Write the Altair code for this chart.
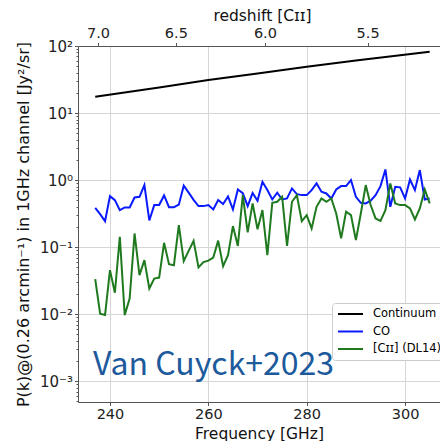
import altair as alt
import pandas as pd

# 1 GHz channels
freq = list(range(237, 306))

co_power = [
    0.386, 0.31, 0.244, 0.577, 0.503, 0.357, 0.391, 0.391, 0.551, 0.564,
    0.842, 0.250, 0.424, 0.424, 0.590, 0.395, 0.395, 0.430, 0.825, 0.650,
    0.507, 0.409, 0.409, 0.424, 0.365, 0.505, 0.440, 0.570, 0.365, 0.726,
    0.640, 0.409, 0.640, 0.490, 0.944, 0.709, 0.514, 0.647, 0.514, 0.532,
    0.751, 0.618, 0.597, 0.597, 0.709, 0.892, 0.670, 0.632, 0.532, 0.726,
    0.813, 0.813, 1.000, 0.564, 0.459, 0.449, 0.492, 0.597, 0.813, 1.440,
    0.400, 0.795, 0.780, 0.532, 1.020, 0.709, 1.410, 0.514, 0.532,
]

cii_power = [
    0.0333, 0.0102, 0.0097, 0.0454, 0.0209, 0.143, 0.0097, 0.0171, 0.160, 0.0382,
    0.064, 0.0242, 0.034, 0.0352, 0.116, 0.0557, 0.0538, 0.213, 0.062, 0.088,
    0.124, 0.0498, 0.060, 0.063, 0.070, 0.125, 0.052, 0.076, 0.206, 0.104,
    0.597, 0.166, 0.449, 0.185, 0.357, 0.076, 0.459, 0.475, 0.564, 0.104,
    0.475, 0.597, 0.244, 0.300, 0.190, 0.400, 0.532, 0.475, 0.532, 0.318,
    0.135, 0.337, 0.300, 0.127, 0.318, 0.842, 0.424, 0.268, 0.247, 0.357,
    0.892, 0.449, 0.424, 0.424, 0.378, 0.259, 0.378, 0.726, 0.449,
]

cont_freq = [237, 250, 260, 270, 280, 290, 305]
cont_power = [17.5, 24.0, 31.0, 39.0, 49.0, 61.0, 82.0]

series_names = ["Continuum", "CO", "[Cɪɪ] (DL14)"]
series_colors = ["black", "#0a1aff", "#1f7a1f"]

redshift_ticks = [7.0, 6.5, 6.0, 5.5]
nu_cii = 1900.54  # rest frequency of [CII] in GHz

df = pd.concat([
    pd.DataFrame({"freq": cont_freq, "power": cont_power, "series": series_names[0]}),
    pd.DataFrame({"freq": freq, "power": co_power, "series": series_names[1]}),
    pd.DataFrame({"freq": freq, "power": cii_power, "series": series_names[2]}),
], ignore_index=True)

font = "DejaVu Sans"
majors = [1e-3, 1e-2, 1e-1, 1.0, 10.0, 100.0]
minors = [k * 10.0 ** e for e in range(-4, 2) for k in range(2, 10) if 4.9e-4 <= k * 10.0 ** e <= 100]
is_minor = "indexof([0.001, 0.01, 0.1, 1, 10, 100], datum.value) < 0"
y_label_expr = (
    "datum.value == 100 ? '10²' : datum.value == 10 ? '10¹' : datum.value == 1 ? '10⁰' : "
    "datum.value == 0.1 ? '10⁻¹' : datum.value == 0.01 ? '10⁻²' : datum.value == 0.001 ? '10⁻³' : ''"
)

x_scale = alt.Scale(domain=[233.5, 307.1], nice=False, zero=False)
y_scale = alt.Scale(type="log", domain=[4.9e-4, 100], nice=False)

y_enc = alt.Y(
    "power:Q", scale=y_scale,
    axis=alt.Axis(
        values=majors + minors, labelExpr=y_label_expr,
        tickSize={"condition": {"test": is_minor, "value": 2}, "value": 3.5},
        gridOpacity={"condition": {"test": is_minor, "value": 0}, "value": 1},
        labelFontSize=15, labelPadding=2, labelBaseline="middle",
        title="P(k)@(0.26 arcmin⁻¹) in 1GHz channel [Jy²/sr]",
        titleFontSize=16, titleFontWeight="normal", titleAngle=-90,
        titleX=-55, titleY=178, titleAlign="center", titleBaseline="middle",
    ),
)

# legend key: a short horizontal stroke starting at the entry's left edge
legend_key = "M-1,0H4"

lines = alt.Chart(df).mark_line(strokeWidth=2, clip=True).encode(
    x=alt.X(
        "freq:Q", scale=x_scale,
        axis=alt.Axis(
            orient="bottom", values=[240, 260, 280, 300], tickSize=3.5,
            labelFontSize=14.5, labelPadding=2, labelBaseline="top",
            title="Frequency [GHz]", titleFontSize=15.5, titleFontWeight="normal",
            titleX=181, titleY=36, titleBaseline="alphabetic",
        ),
    ),
    y=y_enc,
    color=alt.Color(
        "series:N",
        scale=alt.Scale(domain=series_names, range=series_colors),
        sort=series_names,
        legend=alt.Legend(
            title=None, orient="none", legendX=254, legendY=257,
            symbolType=legend_key, symbolSize=100, symbolStrokeWidth=2,
            labelFontSize=11.5, labelFont=font, labelOffset=24,
            fillColor="white", strokeColor="#cccccc", cornerRadius=3,
            padding=5, rowPadding=5.5,
        ),
    ),
)

# invisible copy carrying the redshift axis on top
top_axis = alt.Chart(df[df.series == series_names[0]]).mark_line(strokeOpacity=0).encode(
    x=alt.X(
        "freq:Q", scale=x_scale,
        axis=alt.Axis(
            orient="top", values=[nu_cii / (1 + z) for z in redshift_ticks],
            labelExpr=f"format({nu_cii} / datum.value - 1, '.1f')",
            grid=False, tickSize=3.5, labelFontSize=14.5, labelPadding=5,
            labelBaseline="alphabetic",
            title="redshift [Cɪɪ]", titleFontSize=15.5, titleFontWeight="normal",
            titleX=184, titleY=-26, titleBaseline="alphabetic",
        ),
    ),
    y=y_enc,
)

label = alt.Chart(pd.DataFrame({"t": ["Van Cuyck+2023"]})).mark_text(
    text="Van Cuyck+2023", font="Noto Sans CJK JP",
    fontSize=32, color="#1c5a9c", align="left", baseline="alphabetic",
).encode(x=alt.value(15), y=alt.value(329))

chart = alt.layer(lines, top_axis, label).resolve_axis(x="independent").properties(
    width=362, height=356,
    autosize=alt.AutoSizeParams(type="none"),
    padding={"left": 78, "top": 46, "right": 0, "bottom": 39},
    background="white",
).configure_view(stroke=None).configure_axis(
    labelFont=font, titleFont=font, labelColor="#222222", titleColor="#111111",
    domainColor="#555555", tickColor="#555555", gridColor="#d6d6d6", gridWidth=1,
)

chart.save("out.html", embed_options={"renderer": "svg", "actions": False})
